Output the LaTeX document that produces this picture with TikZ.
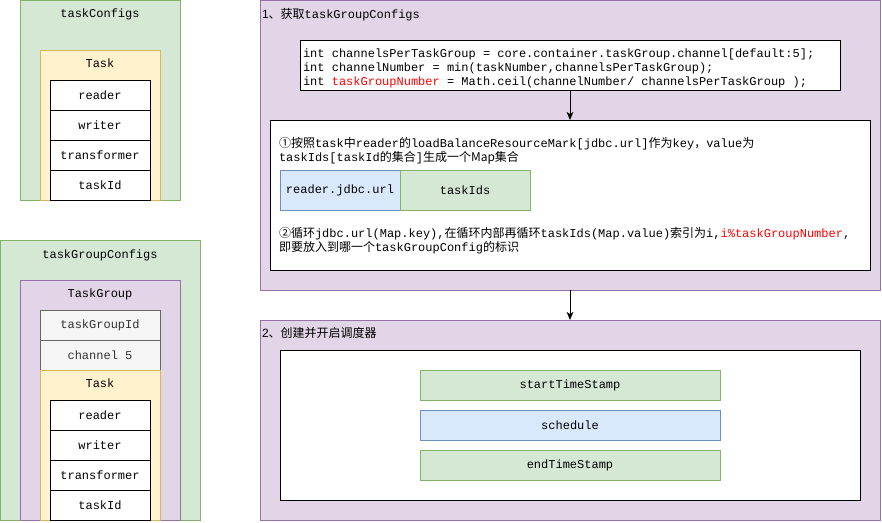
\documentclass[tikz,border=0pt]{standalone}
\usepackage{fontspec}
\setmainfont{Liberation Mono}
\newfontfamily\cjk{Noto Sans CJK SC}
\newfontfamily\sansf{Liberation Sans}
\usetikzlibrary{arrows.meta}
\definecolor{gfill}{HTML}{D5E8D4}
\definecolor{gline}{HTML}{82B366}
\definecolor{yfill}{HTML}{FFF2CC}
\definecolor{yline}{HTML}{D6B656}
\definecolor{pfill}{HTML}{E1D5E7}
\definecolor{pline}{HTML}{9673A6}
\definecolor{bfill}{HTML}{DAE8FC}
\definecolor{bline}{HTML}{6C8EBF}
\definecolor{sfill}{HTML}{F5F5F5}
\definecolor{sline}{HTML}{666666}
\definecolor{stext}{HTML}{333333}
\definecolor{redtext}{HTML}{FF0000}
\newcommand\zh[1]{{\cjk #1}}
\newcommand\rd[1]{\textcolor{redtext}{#1}}
\begin{document}
\begin{tikzpicture}[x=0.75pt,y=-0.75pt,
  font=\fontsize{9pt}{10.5pt}\selectfont,
  every node/.style={inner sep=0pt, outer sep=0pt},
  sz/.style 2 args={minimum width=#1*0.75pt, minimum height=#2*0.75pt, anchor=north west},
  base/.style={draw, line width=0.75pt},
  green/.style={base, fill=gfill, draw=gline},
  yellow/.style={base, fill=yfill, draw=yline},
  purple/.style={base, fill=pfill, draw=pline},
  blue/.style={base, fill=bfill, draw=bline},
  gray/.style={base, fill=sfill, draw=sline, text=stext},
  white/.style={base, fill=white, draw=black},
  txt/.style={anchor=base west},
  lbl/.style={anchor=base},
  arr/.style={line width=0.75pt, -{Stealth[length=6pt,width=5pt,inset=1.5pt]}}
]
\useasboundingbox (0,0) rectangle (882,522);

% ---- taskConfigs
\node[green, sz={160}{200}] (tc) at (20,0) {};
\node[lbl] (tcL) at (100,17) {taskConfigs};
\node[yellow, sz={120}{150}] (t1) at (40,50) {};
\node[lbl] (t1L) at (100,67) {Task};
\node[white, sz={100}{30}] (r1) at (50,80) {reader};
\node[white, sz={100}{30}] (w1) at (50,110) {writer};
\node[white, sz={100}{30}] (tr1) at (50,140) {transformer};
\node[white, sz={100}{30}] (id1) at (50,170) {taskId};

% ---- taskGroupConfigs
\node[green, sz={200}{280}] (tgc) at (0,240) {};
\node[lbl] (tgcL) at (100,258) {taskGroupConfigs};
\node[purple, sz={160}{240}] (tg) at (20,280) {};
\node[lbl] (tgL) at (100,297) {TaskGroup};
\node[gray, sz={120}{30}] (tgid) at (40,310) {taskGroupId};
\node[gray, sz={120}{30}] (ch) at (40,340) {channel 5};
\node[yellow, sz={120}{150}] (t2) at (40,370) {};
\node[lbl] (t2L) at (100,387) {Task};
\node[white, sz={100}{30}] (r2) at (50,400) {reader};
\node[white, sz={100}{30}] (w2) at (50,430) {writer};
\node[white, sz={100}{30}] (tr2) at (50,460) {transformer};
\node[white, sz={100}{30}] (id2) at (50,490) {taskId};

% ---- step 1
\node[purple, sz={620}{290}] (p1) at (260,0) {};
\node[txt] (p1L) at (262,18) {{\sansf 1}\zh{、获取}taskGroupConfigs};
\node[white, sz={540}{50}] (code) at (300,40) {};
\node[txt] (c1) at (303,57) {int channelsPerTaskGroup = core.container.taskGroup.channel[default:5];};
\node[txt] (c2) at (303,71) {int channelNumber = min(taskNumber,channelsPerTaskGroup);};
\node[txt] (c3) at (303,85) {int \rd{taskGroupNumber} = Math.ceil(channelNumber/ channelsPerTaskGroup );};
\node[white, sz={600}{150}] (wb1) at (270,120) {};
\node[txt] (a1) at (279,147) {\zh{①按照}task\zh{中}reader\zh{的}loadBalanceResourceMark[jdbc.url]\zh{作为}key\zh{，}value\zh{为}};
\node[txt] (a2) at (279,161) {taskIds[taskId\zh{的集合}]\zh{生成一个Map集合}};
\node[blue, sz={120}{40}] (rj) at (280,170) {reader.jdbc.url};
\node[green, sz={130}{40}] (ti) at (400,170) {taskIds};
\node[txt] (b1) at (279,237) {\zh{②循环}jdbc.url(Map.key),\zh{在循环内部再循环}taskIds(Map.value)\zh{索引为}i,\rd{i\%taskGroupNumber},};
\node[txt] (b2) at (279,251) {\zh{即要放入到哪一个}taskGroupConfig\zh{的标识}};

% ---- step 2
\node[purple, sz={620}{200}] (p2) at (260,320) {};
\node[txt] (p2L) at (262,337) {{\sansf 2}\zh{、创建并开启调度器}};
\node[white, sz={580}{150}] (wb2) at (280,350) {};
\node[green, sz={300}{30}] (st) at (420,370) {startTimeStamp};
\node[blue, sz={300}{30}] (sc) at (420,410) {schedule};
\node[green, sz={300}{30}] (et) at (420,450) {endTimeStamp};

% ---- connectors
\draw[arr] (code.south) -- (wb1.north);
\draw[arr] (p1.south) -- (p2.north);
\end{tikzpicture}
\end{document}
